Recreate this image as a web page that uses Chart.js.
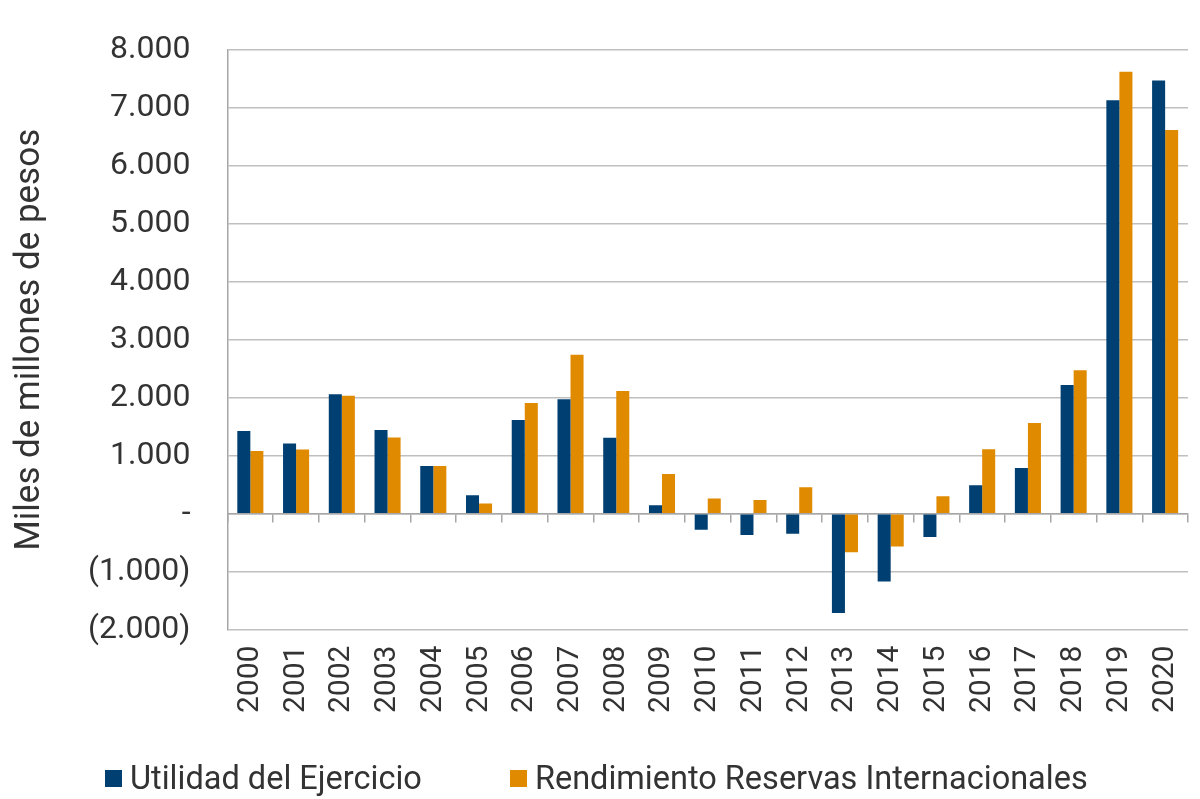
<!DOCTYPE html>
<html>
<head>
<meta charset="utf-8">
<script src="https://cdn.jsdelivr.net/npm/chart.js@4"></script>
<style>
  html, body { margin: 0; padding: 0; background: #fff; }
  #wrap { position: relative; width: 1200px; height: 799px; }
  #legend { position: absolute; left: 105px; top: 758px; display: flex; align-items: center;
            font-family: Roboto; font-size: 32.5px; color: #333333; line-height: 40px; white-space: nowrap; }
  #legend .item { display: flex; align-items: center; }
  #legend .item + .item { margin-left: 88px; }
  #legend .box { width: 17px; height: 17px; margin-right: 8px; }
</style>
</head>
<body>
<div id="wrap">
  <canvas id="utilidadChart"></canvas>
  <div id="legend"></div>
</div>
<script>
const years = ['2000', '2001', '2002', '2003', '2004', '2005', '2006', '2007', '2008', '2009', '2010',
               '2011', '2012', '2013', '2014', '2015', '2016', '2017', '2018', '2019', '2020'];
const utilidad = [1426, 1211, 2059, 1443, 820, 318, 1616, 1972, 1310, 145, -277,
                  -369, -346, -1713, -1172, -404, 488, 788, 2220, 7135, 7474];
const rendimiento = [1080, 1107, 2036, 1315, 820, 173, 1910, 2740, 2118, 682, 260,
                     237, 457, -668, -566, 300, 1113, 1563, 2474, 7624, 6621];
const yTicks = [-2000, -1000, 0, 1000, 2000, 3000, 4000, 5000, 6000, 7000, 8000];

function fmtMiles(v) {
    if (v === 0) return '-';
    const s = Math.abs(v).toString().replace(/\B(?=(\d{3})+(?!\d))/g, '.');
    return v < 0 ? '(' + s + ')' : s;
}

document.addEventListener('DOMContentLoaded', function() {
    const ctx = document.getElementById('utilidadChart').getContext('2d');
    Chart.defaults.font.family = 'Roboto';
    Chart.defaults.color = '#404040';

    const chart = new Chart(ctx, {
        type: 'bar',
        data: {
            labels: years,
            datasets: [{
                label: 'Utilidad del Ejercicio',
                data: utilidad,
                backgroundColor: '#003f72'
            }, {
                label: 'Rendimiento Reservas Internacionales',
                data: rendimiento,
                backgroundColor: '#e08a00'
            }]
        },
        options: {
            responsive: true,
            maintainAspectRatio: false,
            animation: false,
            categoryPercentage: 0.57,
            barPercentage: 1.0,
            layout: {
                padding: { top: 50, right: 12, left: 3, bottom: 78 }
            },
            plugins: {
                legend: { display: false },
                tooltip: { enabled: false }
            },
            scales: {
                x: {
                    grid: { display: false },
                    border: { display: false },
                    ticks: {
                        minRotation: 90,
                        maxRotation: 90,
                        padding: 8,
                        font: { size: 30 },
                        color: '#333333'
                    },
                    // rotated labels would otherwise reserve extra room on the sides
                    afterFit: function(axis) {
                        axis.paddingLeft = 0;
                        axis.paddingRight = 0;
                    }
                },
                x2: {
                    type: 'category',
                    position: { y: 0 },
                    grid: {
                        display: true,
                        drawOnChartArea: false,
                        drawTicks: true,
                        tickLength: 8,
                        offset: true,
                        color: '#a6a6a6',
                        lineWidth: 1.5
                    },
                    border: { display: true, color: '#a6a6a6', width: 1.5 },
                    ticks: { display: false }
                },
                y: {
                    min: -2000,
                    max: 8000,
                    afterBuildTicks: function(axis) {
                        axis.ticks = yTicks.map(function(v) { return { value: v }; });
                    },
                    // tick padding is meant to be horizontal only
                    afterFit: function(axis) {
                        axis.paddingTop = 0;
                        axis.paddingBottom = 0;
                    },
                    grid: {
                        color: '#bfbfbf',
                        lineWidth: 1.5,
                        drawTicks: false
                    },
                    border: { display: true, color: '#a6a6a6', width: 1.5 },
                    ticks: {
                        padding: 37,
                        font: { size: 32 },
                        color: '#333333',
                        callback: function(v) { return fmtMiles(v); }
                    },
                    title: {
                        display: true,
                        text: 'Miles de millones de pesos',
                        font: { size: 35 },
                        color: '#333333',
                        padding: { top: 6, bottom: 0 }
                    }
                }
            }
        }
    });

    // legend kept as real text below the canvas
    const legend = document.getElementById('legend');
    chart.data.datasets.forEach(function(ds) {
        const item = document.createElement('div');
        item.className = 'item';
        item.innerHTML = '<span class="box" style="background:' + ds.backgroundColor + '"></span>' + ds.label;
        legend.appendChild(item);
    });
});
</script>
</body>
</html>
